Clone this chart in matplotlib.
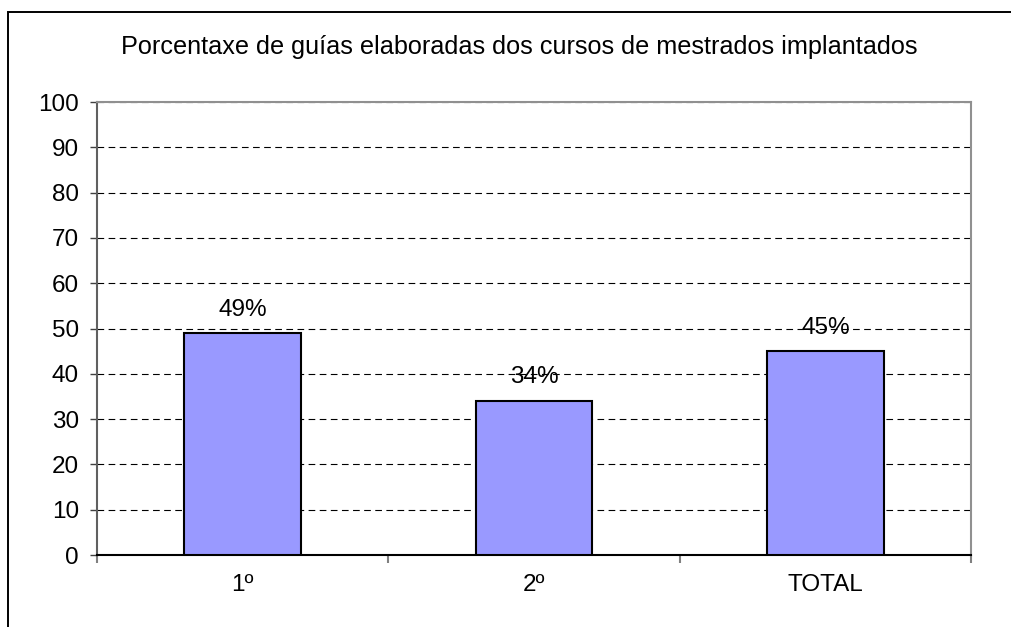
import matplotlib.pyplot as plt
from matplotlib.patches import Rectangle

categories = ['1º', '2º', 'TOTAL']
values = [49, 34, 45]
labels = ['49%', '34%', '45%']

plt.rcParams['font.family'] = ['Liberation Sans', 'DejaVu Sans']
fs = 17.5

fig = plt.figure(figsize=(10.12, 6.27), dpi=100)
ax = fig.add_axes([0.0958, 0.1148, 0.8637, 0.7225])

# outer chart frame
fig.patches.append(Rectangle((8 / 1012, -0.1), 1.2, 1 - 12 / 627 + 0.1,
                             transform=fig.transFigure, fill=False,
                             edgecolor='black', linewidth=1.4))

x = range(len(categories))
ax.bar(x, values, width=0.4, color='#9999FF', edgecolor='black', linewidth=1.5, zorder=3)

for xi, v, lab in zip(x, values, labels):
    ax.annotate(lab, (xi, v), xytext=(0, 9), textcoords='offset points',
                ha='center', va='bottom', fontsize=fs)

ax.set_xlim(-0.5, 2.5)
ax.set_ylim(0, 100)
ax.set_yticks(range(0, 101, 10))
ax.yaxis.grid(True, linestyle=(0, (6, 4)), color='black', linewidth=0.8, zorder=0)
ax.tick_params(axis='y', length=5, width=1, color='#404040', pad=8, labelsize=fs)

ax.set_xticks([-0.5, 0.5, 1.5, 2.5])
ax.set_xticklabels([])
ax.set_xticks(list(x), minor=True)
ax.set_xticklabels(categories, minor=True, fontsize=fs)
ax.tick_params(axis='x', which='major', length=6, width=1.5, color='#808080')
ax.tick_params(axis='x', which='minor', length=0, pad=14)

ax.spines['left'].set_color('#606060')
ax.spines['top'].set_color('#909090')
ax.spines['right'].set_color('#909090')
ax.spines['bottom'].set_color('black')
for s in ax.spines.values():
    s.set_linewidth(1.5)

fig.text(519 / 1012, 1 - 47 / 627, 'Porcentaxe de guías elaboradas dos cursos de mestrados implantados',
         ha='center', va='center', fontsize=18.2)

fig.savefig('out.png', dpi=100)
